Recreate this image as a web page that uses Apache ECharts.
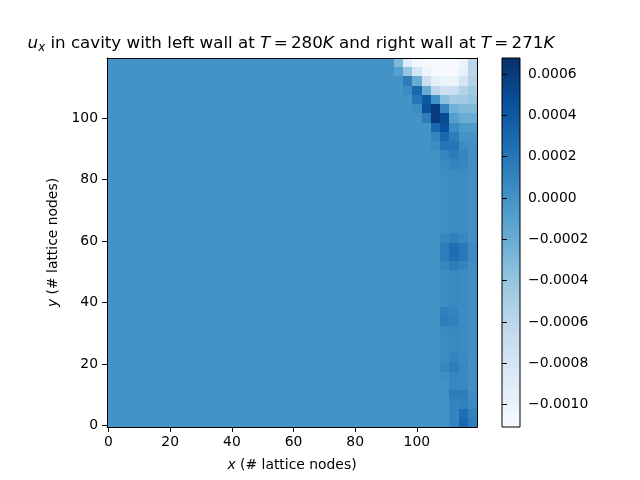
<!DOCTYPE html>
<html>
<head>
<meta charset="utf-8">
<script src="https://cdn.jsdelivr.net/npm/echarts@6/dist/echarts.min.js"></script>
<style>
  html, body { margin: 0; padding: 0; background: #fff; }
  #main { width: 640px; height: 480px; }
</style>
</head>
<body>
<div id="main"></div>
<script>
// grid size (lattice nodes)
var NX = 120, NY = 120
// field is read in blocks of 3x3 nodes, starting at x = 90 (left of it u_x ~ 0)
var BLOCK = 3, X0 = 90
// colorbar range
var CB_MIN = -0.001108, CB_MAX = 0.000677
var cbTicks = [-0.0010, -0.0008, -0.0006, -0.0004, -0.0002, 0, 0.0002, 0.0004, 0.0006]
var axisTicks = [0, 20, 40, 60, 80, 100]
// matplotlib "Blues"
var blues = ['#f7fbff', '#deebf7', '#c6dbef', '#9ecae1', '#6baed6', '#4292c6', '#2171b5', '#08519c', '#08306b']

// u_x in units of 1e-4, rows from top (y 117-119) to bottom (y 0-2),
// columns x 90-92, 93-95, ... 117-119
var uxBlocks = [
  [0, -3, -9, -10.5, -11, -11, -11, -11, -10, -6],
  [0, -1, -4, -8, -10, -11, -11, -11, -9.5, -6],
  [0, 0, 1.5, -2, -7, -9.5, -10, -10, -8, -5.5],
  [0, 0, 0.5, 3, -2, -6, -7.5, -7, -5.5, -4.5],
  [0, 0, 0, 2, 4, 0, -3.5, -4.5, -4.5, -4],
  [0, 0, 0, 0.5, 4.5, 6, 1, -2.5, -3, -3],
  [0, 0, 0, 0, 1.5, 6, 5, -1, -2, -2],
  [0, 0, 0, 0, 0, 3, 4.5, 0.5, -0.5, -0.5],
  [0, 0, 0, 0, 0, 1, 3, 1.5, 0, 0],
  [0, 0, 0, 0, 0, 0.5, 2, 2, 0.5, 0.2],
  [0, 0, 0, 0, 0, 0, 1, 1.5, 1, 0.3],
  [0, 0, 0, 0, 0, 0, 0.6, 1, 0.8, 0.2],
  [0, 0, 0, 0, 0, 0, 0.3, 0.5, 0.4, 0.2],
  [0, 0, 0, 0, 0, 0, 0.3, 0.5, 0.4, 0.2],
  [0, 0, 0, 0, 0, 0, 0.3, 0.5, 0.4, 0.2],
  [0, 0, 0, 0, 0, 0, 0.3, 0.5, 0.4, 0.2],
  [0, 0, 0, 0, 0, 0, 0.3, 0.5, 0.4, 0.2],
  [0, 0, 0, 0, 0, 0, 0.3, 0.5, 0.4, 0.2],
  [0, 0, 0, 0, 0, 0, 0.3, 0.5, 0.4, 0.2],
  [0, 0, 0, 0, 0, 0, 0.8, 1.2, 0.8, 0.2],
  [0, 0, 0, 0, 0, 0, 1.5, 2.5, 1.8, 0.5],
  [0, 0, 0, 0, 0, 0, 1.5, 2.5, 1.8, 0.5],
  [0, 0, 0, 0, 0, 0, 0.8, 1.5, 1, 0.3],
  [0, 0, 0, 0, 0, 0, 0.4, 0.6, 0.5, 0.2],
  [0, 0, 0, 0, 0, 0, 0.4, 0.6, 0.5, 0.2],
  [0, 0, 0, 0, 0, 0, 0.4, 0.6, 0.5, 0.2],
  [0, 0, 0, 0, 0, 0, 0.4, 0.6, 0.5, 0.2],
  [0, 0, 0, 0, 0, 0, 1.2, 1, 0.5, 0.2],
  [0, 0, 0, 0, 0, 0, 1.5, 1.2, 0.5, 0.2],
  [0, 0, 0, 0, 0, 0, 0.6, 0.7, 0.5, 0.2],
  [0, 0, 0, 0, 0, 0, 0.4, 0.6, 0.5, 0.2],
  [0, 0, 0, 0, 0, 0, 0.4, 0.6, 0.5, 0.2],
  [0, 0, 0, 0, 0, 0, 0.5, 1, 0.6, 0.2],
  [0, 0, 0, 0, 0, 0, 0.8, 1.5, 0.8, 0.2],
  [0, 0, 0, 0, 0, 0, 0.3, 0.8, 0.6, 0.2],
  [0, 0, 0, 0, 0, 0, 0, 0.8, 0.8, 0.3],
  [0, 0, 0, 0, 0, 0, 0, 1.5, 1.5, 0.4],
  [0, 0, 0, 0, 0, 0, 0, 1, 1.2, 0.6],
  [0, 0, 0, 0, 0, 0, 0, 1, 2.5, 1.2],
  [0, 0, 0, 0, 0, 0, 0, 1, 3, 1.5]
]

var FONT = 'DejaVu Sans'
var FS = 13.9

var chart = echarts.init(document.getElementById('main'), null, { renderer: 'canvas' })

// one cell per lattice node, value taken from the block it sits in
function buildCells() {
  var cells = []
  var nRows = uxBlocks.length
  for (var i = 0; i < NX; i++) {
    for (var j = 0; j < NY; j++) {
      var v = 0
      if (i >= X0) {
        var c = Math.floor((i - X0) / BLOCK)
        var r = nRows - 1 - Math.floor(j / BLOCK)
        v = uxBlocks[r][c] * 1e-4
      }
      cells.push([i, j, v])
    }
  }
  return cells
}

var cats = []
for (var k = 0; k < NX; k++) cats.push(String(k))

function showTick(index) {
  return axisTicks.indexOf(index) >= 0
}

function fmtCb(v) {
  var s = Math.abs(v).toFixed(4)
  return (v < -1e-12 ? '\u2212' : '') + s
}

// cell edges come from the index, rounded the same way for neighbours -> no seams
function renderCell(params, api) {
  var i = api.value(0), j = api.value(1)
  var o = api.coord([0, 0])
  var sz = api.size([1, 1])
  var left = o[0] - sz[0] / 2, bottom = o[1] + sz[1] / 2
  var x0 = Math.round(left + i * sz[0]), x1 = Math.round(left + (i + 1) * sz[0])
  var y1 = Math.round(bottom - j * sz[1]), y0 = Math.round(bottom - (j + 1) * sz[1])
  return {
    type: 'rect',
    shape: { x: x0, y: y0, width: x1 - x0, height: y1 - y0 },
    style: { fill: api.visual('color') }
  }
}

var tickStyle = { show: true, inside: false, length: 4.9, lineStyle: { color: '#000', width: 1 } }
var labelStyle = { color: '#000', fontFamily: FONT, fontSize: FS }
var TS = '\u2009'

var option = {
  animation: false,
  backgroundColor: '#fff',
  title: {
    text: '{i|u}{sub|x} in cavity with left wall at {i|T}' + TS + '=' + TS + '280{i|K} and right wall at {i|T}' + TS + '=' + TS + '271{i|K}',
    left: 291,
    top: 33,
    padding: 0,
    textAlign: 'center',
    textStyle: {
      color: '#000', fontFamily: FONT, fontSize: 16.7, fontWeight: 'normal',
      rich: {
        i: { fontFamily: FONT, fontSize: 16.7, fontStyle: 'italic', color: '#000' },
        sub: { fontFamily: FONT, fontSize: 11.7, fontStyle: 'italic', color: '#000', padding: [9, 0, 0, 0] }
      }
    }
  },
  grid: [
    { left: 107, top: 58, width: 370, height: 369 },
    { left: 502, top: 58, width: 18, height: 369 }
  ],
  xAxis: [
    {
      type: 'category', gridIndex: 0, data: cats, position: 'bottom', z: 10,
      axisLine: { lineStyle: { color: '#000', width: 1 } },
      axisTick: Object.assign({ alignWithLabel: true, interval: showTick }, tickStyle),
      axisLabel: Object.assign({ interval: showTick, margin: 8 }, labelStyle),
      name: '{i|x} (# lattice nodes)', nameLocation: 'middle', nameGap: 31,
      nameTextStyle: {
        color: '#000', fontFamily: FONT, fontSize: FS,
        rich: { i: { fontFamily: FONT, fontSize: FS, fontStyle: 'italic', color: '#000' } }
      }
    },
    {
      type: 'category', gridIndex: 0, data: cats, position: 'top', z: 10,
      axisLine: { lineStyle: { color: '#000', width: 1 } },
      axisTick: { show: false }, axisLabel: { show: false }
    },
    { type: 'value', gridIndex: 1, min: 0, max: 1, show: false }
  ],
  yAxis: [
    {
      type: 'category', gridIndex: 0, data: cats, position: 'left', z: 10,
      axisLine: { lineStyle: { color: '#000', width: 1 } },
      axisTick: Object.assign({ alignWithLabel: true, interval: showTick }, tickStyle),
      axisLabel: Object.assign({ interval: showTick, margin: 9 }, labelStyle),
      name: '{i|y} (# lattice nodes)', nameLocation: 'middle', nameGap: 37,
      nameTextStyle: {
        color: '#000', fontFamily: FONT, fontSize: FS,
        rich: { i: { fontFamily: FONT, fontSize: FS, fontStyle: 'italic', color: '#000' } }
      }
    },
    {
      type: 'category', gridIndex: 0, data: cats, position: 'right', z: 10,
      axisLine: { lineStyle: { color: '#000', width: 1 } },
      axisTick: { show: false }, axisLabel: { show: false }
    },
    {
      type: 'value', gridIndex: 1, position: 'right', min: CB_MIN, max: CB_MAX, z: 10,
      splitLine: { show: false },
      axisLine: { show: false },
      axisTick: Object.assign({ customValues: cbTicks }, tickStyle),
      axisLabel: Object.assign({ customValues: cbTicks, margin: 8, formatter: fmtCb }, labelStyle)
    }
  ],
  visualMap: {
    type: 'continuous',
    show: false,
    seriesIndex: 0,
    dimension: 2,
    min: CB_MIN,
    max: CB_MAX,
    inRange: { color: blues }
  },
  series: [
    {
      // u_x field
      type: 'custom',
      xAxisIndex: 0,
      yAxisIndex: 0,
      data: buildCells(),
      renderItem: renderCell
    },
    {
      // colorbar
      type: 'custom',
      xAxisIndex: 2,
      yAxisIndex: 2,
      data: [[0, CB_MIN, 1, CB_MAX]],
      renderItem: function (params, api) {
        var p0 = api.coord([api.value(0), api.value(3)])
        var p1 = api.coord([api.value(2), api.value(1)])
        var stops = []
        for (var s = 0; s < blues.length; s++) {
          stops.push({ offset: s / (blues.length - 1), color: blues[blues.length - 1 - s] })
        }
        return {
          type: 'rect',
          shape: { x: p0[0], y: p0[1], width: p1[0] - p0[0], height: p1[1] - p0[1] },
          style: {
            fill: new echarts.graphic.LinearGradient(0, 0, 0, 1, stops),
            stroke: '#000',
            lineWidth: 1
          }
        }
      }
    }
  ]
}

chart.setOption(option)
</script>
</body>
</html>
